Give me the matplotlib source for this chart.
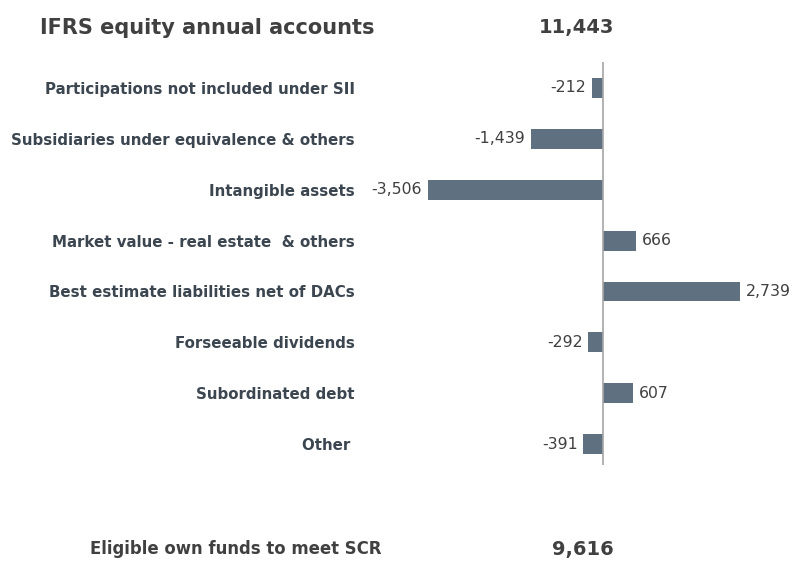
import matplotlib.pyplot as plt

labels = ["Participations not included under SII",
          "Subsidiaries under equivalence & others",
          "Intangible assets",
          "Market value - real estate  & others",
          "Best estimate liabilities net of DACs",
          "Forseeable dividends",
          "Subordinated debt",
          "Other "]
values = [-212, -1439, -3506, 666, 2739, -292, 607, -391]
start_label = "IFRS equity annual accounts"
start_value = 11443
end_label = "Eligible own funds to meet SCR"
end_value = 9616

bar_col = "#5f7080"
txt_col = "#404040"
lab_col = "#3c4650"

W, H = 793, 563
fig = plt.figure(figsize=(W / 100, H / 100), dpi=100)

# axes placed in pixels: x 380..780, y 62..465
ax = fig.add_axes([380 / W, 1 - 465 / H, 400 / W, 403 / H])
ypos = list(range(len(values)))
ax.barh(ypos, values, height=0.39, color=bar_col)
ax.set_xlim(-4469, 3547)
ax.set_ylim(7.41, -0.51)
ax.axvline(0, color="#a6a6a6", lw=1.2)

for y, v in zip(ypos, values):
    if v < 0:
        ax.text(v - 120, y, f"{v:,}", ha="right", va="center", fontsize=11.3, color=txt_col)
    else:
        ax.text(v + 120, y, f"{v:,}", ha="left", va="center", fontsize=11.3, color=txt_col)

ax.set_yticks(ypos)
ax.set_yticklabels(labels, fontsize=10.8, fontweight="bold", color=lab_col)
ax.tick_params(axis="y", length=0, pad=18)
ax.set_xticks([])
for s in ax.spines.values():
    s.set_visible(False)

fig.text(40 / W, 1 - 28 / H, start_label, fontsize=15, fontweight="bold", color=txt_col,
         ha="left", va="center")
fig.text(614 / W, 1 - 28 / H, f"{start_value:,}", fontsize=14, fontweight="bold", color=txt_col,
         ha="right", va="center")
fig.text(90 / W, 1 - 549 / H, end_label, fontsize=11.9, fontweight="bold", color=txt_col,
         ha="left", va="center")
fig.text(614 / W, 1 - 549 / H, f"{end_value:,}", fontsize=14, fontweight="bold", color=txt_col,
         ha="right", va="center")

fig.savefig("out.png", dpi=100)
